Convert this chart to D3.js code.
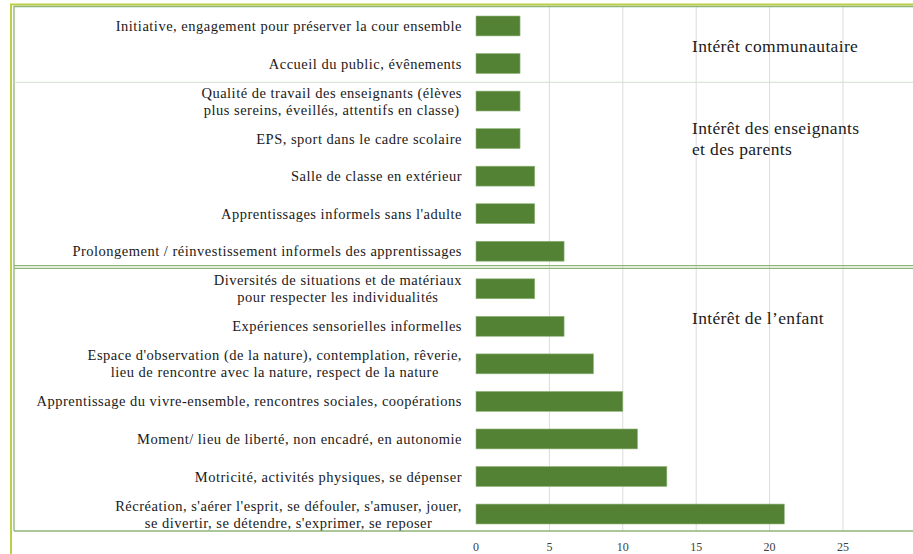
<!DOCTYPE html>
<html>
<head>
<meta charset="utf-8">
<script src="https://cdn.jsdelivr.net/npm/d3@7"></script>
<style>
  html, body { margin: 0; padding: 0; background: #fff; }
  svg { display: block; }
</style>
</head>
<body>
<div id="chart"></div>
<script>
// categories, top to bottom (lines separated by "|")
var categories = [
    "Initiative, engagement pour préserver la cour ensemble",
    "Accueil du public, évênements",
    "Qualité de travail des enseignants (élèves|plus sereins, éveillés, attentifs en classe)",
    "EPS, sport dans le cadre scolaire",
    "Salle de classe en extérieur",
    "Apprentissages informels sans l'adulte",
    "Prolongement / réinvestissement informels des apprentissages",
    "Diversités de situations et de matériaux|pour respecter les individualités",
    "Expériences sensorielles informelles",
    "Espace d'observation (de la nature), contemplation, rêverie,|lieu de rencontre avec la nature, respect de la nature",
    "Apprentissage du vivre-ensemble, rencontres sociales, coopérations",
    "Moment/ lieu de liberté, non encadré, en autonomie",
    "Motricité, activités physiques, se dépenser",
    "Récréation, s'aérer l'esprit, se défouler, s'amuser, jouer,|se divertir, se détendre, s'exprimer, se reposer"
];
var values = [3, 3, 3, 3, 4, 4, 6, 4, 6, 8, 10, 11, 13, 21];
var xTicks = [0, 5, 10, 15, 20, 25];

// groups: label lines and the first / last category index
var groupNames = [["Intérêt communautaire"], ["Intérêt des enseignants", "et des parents"], ["Intérêt de l\u2019enfant"]];
var groupStart = [0, 2, 7];
var groupEnd = [1, 6, 13];

var width = 913, height = 554;
var serif = "Liberation Serif";

var svg = d3.select("#chart").append("svg")
    .attr("width", width)
    .attr("height", height);

var x = d3.scaleLinear().domain([0, 30]).range([476, 916.4]);
var y = d3.scaleBand().domain(d3.range(categories.length)).range([7.2, 532.8]).paddingInner(0.47).paddingOuter(0.235);

// gridlines
svg.append("g")
    .selectAll("line")
    .data(xTicks.filter(function(d) { return d > 0; }))
    .enter().append("line")
    .attr("x1", function(d) { return x(d); })
    .attr("x2", function(d) { return x(d); })
    .attr("y1", 7)
    .attr("y2", 531)
    .attr("stroke", "#dcdcdc")
    .attr("stroke-width", 1);

// bars
svg.append("g")
    .selectAll("rect")
    .data(values)
    .enter().append("rect")
    .attr("x", x(0))
    .attr("y", function(d, i) { return y(i); })
    .attr("width", function(d) { return x(d) - x(0); })
    .attr("height", y.bandwidth())
    .attr("fill", "#548235")
    .attr("stroke", "#8fb478")
    .attr("stroke-width", 0.6);

// category labels: block right-aligned, lines centred in block
var labels = svg.append("g")
    .attr("font-family", serif)
    .attr("font-size", "14.5px")
    .attr("letter-spacing", "0.5px")
    .attr("fill", "#1a1a1a");
categories.forEach(function(c, i) {
    var lines = c.split("|");
    var g = labels.append("g");
    var lineH = 17;
    var cy = y(i) + y.bandwidth() / 2;
    var texts = lines.map(function(l, k) {
        return g.append("text")
            .attr("y", cy + (k - (lines.length - 1) / 2) * lineH)
            .attr("dy", "0.35em")
            .text(l);
    });
    var maxW = d3.max(texts, function(t) { return t.node().getComputedTextLength(); });
    texts.forEach(function(t) {
        t.attr("x", 462 - maxW / 2).attr("text-anchor", "middle");
    });
});

// x axis tick labels
svg.append("g")
    .attr("font-family", serif)
    .selectAll("text")
    .data(xTicks)
    .enter().append("text")
    .attr("x", function(d) { return x(d); })
    .attr("y", 547)
    .attr("dy", "0.35em")
    .attr("text-anchor", "middle")
    .attr("font-size", "12px")
    .attr("fill", "#404040")
    .text(function(d) { return d; });

// group labels
var groupY = [46, 138, 318];
groupNames.forEach(function(lines, i) {
    lines.forEach(function(l, k) {
        svg.append("text")
            .attr("x", 692)
            .attr("y", groupY[i] + (k - (lines.length - 1) / 2) * 21)
            .attr("dy", "0.35em")
            .attr("font-family", serif)
            .attr("font-size", "17.5px")
            .attr("letter-spacing", "0.35px")
            .attr("fill", "#1a1a1a")
            .text(l);
    });
});

// frame lines
var frame = svg.append("g").attr("fill", "none");
// outer yellow-green border
frame.append("path").attr("d", "M11,554 V4.5 H913").attr("stroke", "#bccf45").attr("stroke-width", 2);
// inner green box
frame.append("path").attr("d", "M14,531 V6.5 H913").attr("stroke", "#8fb478").attr("stroke-width", 1.3);
frame.append("line").attr("x1", 14).attr("x2", 913).attr("y1", 531).attr("y2", 531)
    .attr("stroke", "#8fb478").attr("stroke-width", 1.6);
// thin separator between group 1 and 2
var sep1 = (y(groupEnd[0]) + y.bandwidth() + y(groupStart[1])) / 2;
frame.append("line").attr("x1", 14).attr("x2", 913).attr("y1", sep1).attr("y2", sep1)
    .attr("stroke", "#d3e0cc").attr("stroke-width", 1);
// double line between group 2 and 3
var sep2 = (y(groupEnd[1]) + y.bandwidth() + y(groupStart[2])) / 2 - 3;
[sep2 - 1.3, sep2 + 1.3].forEach(function(s) {
    frame.append("line").attr("x1", 14).attr("x2", 913).attr("y1", s).attr("y2", s)
        .attr("stroke", "#8fb478").attr("stroke-width", 1.2);
});
</script>
</body>
</html>
